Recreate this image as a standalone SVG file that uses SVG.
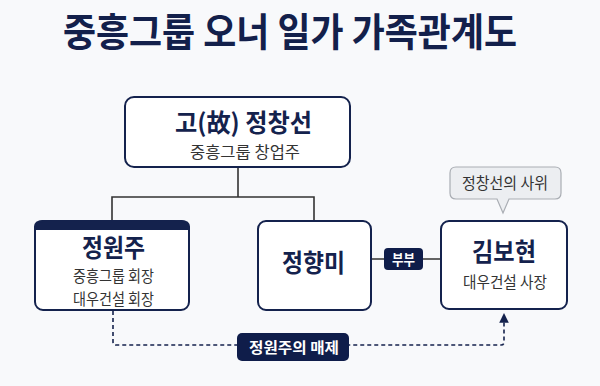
<svg xmlns="http://www.w3.org/2000/svg" width="600" height="386" viewBox="0 0 600 386">
<defs>
<style>
.t{font-family:"Noto Sans CJK KR","Noto Sans",sans-serif;text-anchor:middle;}
.box{fill:#fff;stroke:#14224d;stroke-width:2;}
.name{font-size:25px;font-weight:700;fill:#14224d;}
.sub{font-size:16px;fill:#333;}
.conn{fill:none;stroke:#333;stroke-width:1.6;}
.dash{fill:none;stroke:#14224d;stroke-width:1.6;stroke-dasharray:4 3;}
.badge{fill:#0f1d4a;}
.bt{font-size:15px;font-weight:700;fill:#fff;}
</style>
<marker id="arr" viewBox="0 0 10 10" refX="9" refY="5" markerWidth="6" markerHeight="6" orient="auto">
<path d="M0,0 L10,5 L0,10 z" fill="#14224d"/>
</marker>
</defs>
<rect width="600" height="386" fill="#f8f9fb"/>
<text class="t" x="290" y="46" font-size="39" font-weight="700" fill="#13204b" textLength="454" lengthAdjust="spacingAndGlyphs">중흥그룹 오너 일가 가족관계도</text>

<g id="connectors">
<path class="conn" d="M238,168 V197 M112,221 V197 H314 V221"/>
<path class="conn" d="M371,259 H385 M423,259 H441"/>
<path class="dash" d="M113,311 V342 Q113,345 116,345 H501 Q504,345 504,342 V314" marker-end="url(#arr)"/>
</g>

<g id="founder">
<rect class="box" x="125" y="97" width="225" height="70" rx="9"/>
<text class="t name" x="243.5" y="132" textLength="137" lengthAdjust="spacingAndGlyphs">고(故) 정창선</text>
<text class="t sub" x="245" y="158" textLength="110" lengthAdjust="spacingAndGlyphs">중흥그룹 창업주</text>
</g>

<g id="jungwonju">
<rect class="box" x="35" y="221" width="154" height="89" rx="8"/>
<path d="M35,229 V227 Q35,221 43,221 H181 Q189,221 189,227 V229 Z" fill="#14224d" stroke="#14224d" stroke-width="2"/>
<text class="t name" x="113.5" y="256.5" textLength="63" lengthAdjust="spacingAndGlyphs">정원주</text>
<text class="t sub" x="113.5" y="282" font-size="14" textLength="81" lengthAdjust="spacingAndGlyphs">중흥그룹 회장</text>
<text class="t sub" x="113.5" y="305" font-size="14" textLength="81" lengthAdjust="spacingAndGlyphs">대우건설 회장</text>
</g>

<g id="junghyangmi">
<rect class="box" x="258" y="221" width="113" height="89" rx="8"/>
<text class="t name" x="313.5" y="272" font-size="26" textLength="63" lengthAdjust="spacingAndGlyphs">정향미</text>
</g>

<g id="couple">
<rect class="badge" x="384" y="248" width="39" height="22" rx="4"/>
<text class="t bt" x="403.5" y="265" textLength="23" lengthAdjust="spacingAndGlyphs">부부</text>
</g>

<g id="kimbohyun">
<rect class="box" x="441" y="221" width="126" height="88" rx="8"/>
<text class="t name" x="504" y="261" font-size="26" textLength="64" lengthAdjust="spacingAndGlyphs">김보현</text>
<text class="t sub" x="505" y="288" textLength="84" lengthAdjust="spacingAndGlyphs">대우건설 사장</text>
</g>

<g id="callout">
<path d="M456,167 H555 Q561,167 561,173 V193 Q561,199 555,199 H509 L503,213 L497,199 H456 Q450,199 450,193 V173 Q450,167 456,167 Z" fill="#eceef1" stroke="#a9adb3" stroke-width="1.2"/>
<text class="t" x="505" y="189" font-size="16" fill="#333" textLength="86" lengthAdjust="spacingAndGlyphs">정창선의 사위</text>
</g>

<g id="brotherinlaw">
<rect class="badge" x="237" y="333" width="112" height="28" rx="5"/>
<text class="t bt" x="294" y="353" font-size="17" textLength="90" lengthAdjust="spacingAndGlyphs">정원주의 매제</text>
</g>
</svg>
